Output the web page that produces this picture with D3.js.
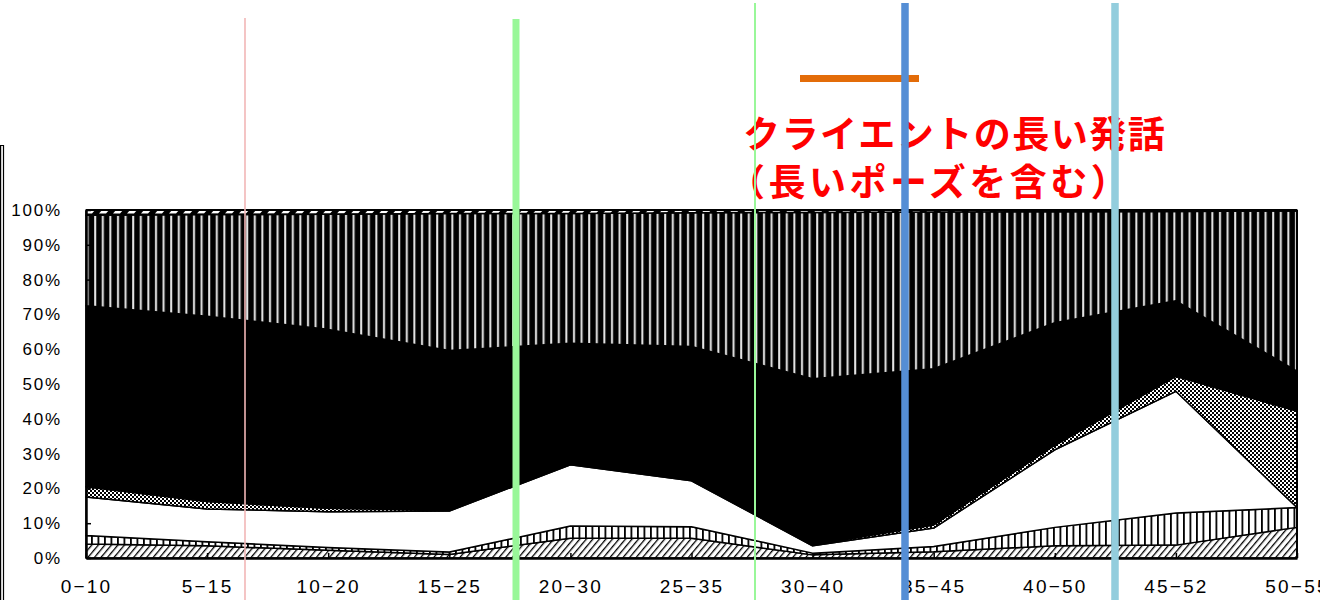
<!DOCTYPE html>
<html><head><meta charset="utf-8">
<script src="https://cdn.jsdelivr.net/npm/d3@7"></script>
<style>
html,body{margin:0;padding:0;background:#fff;}
svg{display:block;}
</style></head>
<body>
<svg id="chart" width="1320" height="600"></svg>
<script>
// ---- data ----
const categories = ["0−10","5−15","10−20","15−25","20−30","25−35","30−40","35−45","40−50","45−52","50−55"];
const seriesA = [4, 3.5, 2.2, 1, 5.7, 5.7, 0.9, 1.8, 3.5, 3.7, 8.8];          // diagonal hatch
const seriesB = [2.5, 1.2, 0.8, 0.7, 3.5, 3.3, 0.5, 1.5, 5.3, 9.2, 5.7];      // vertical lines
const seriesC = [11, 9.4, 10.3, 11.8, 17.6, 13.2, 2.1, 5.3, 22.3, 35, 0];     // white
const seriesD = [3, 2.1, 1, 0.2, 0.2, 0.2, 0.3, 0.9, 1.3, 4.3, 27.7];         // checker
const seriesE = [52, 53.3, 51.4, 45.9, 34.7, 38.4, 47.7, 44.9, 35.2, 21.7, 11.5]; // black
const seriesF = [26, 29.2, 33.1, 39.4, 37.3, 38.4, 47.8, 45, 31.9, 25.7, 46];  // black w/ white stripes
const seriesG = [1.5, 1.3, 1.2, 1.0, 1.0, 0.8, 0.7, 0.6, 0.5, 0.4, 0.3];      // top dashes
const yTicks = [0,10,20,30,40,50,60,70,80,90,100];
const annotationLines = ["クライエントの長い発話", "（長いポーズを含む）"];

const seriesKeys = ["A","B","C","D","E","F","G"];
const seriesData = {A:seriesA,B:seriesB,C:seriesC,D:seriesD,E:seriesE,F:seriesF,G:seriesG};
const table = categories.map((c,i)=>{
  const row = {cat:c};
  seriesKeys.forEach(k=>row[k]=seriesData[k][i]);
  return row;
});

const svg = d3.select("#chart");
const defs = svg.append("defs");

// patterns
const pA = defs.append("pattern").attr("id","pA").attr("patternUnits","userSpaceOnUse")
  .attr("width",5).attr("height",5).attr("patternTransform","rotate(40)");
pA.append("rect").attr("width",5).attr("height",5).attr("fill","#fff");
pA.append("rect").attr("x",0).attr("y",0).attr("width",1.3).attr("height",5).attr("fill","#000");

const pB = defs.append("pattern").attr("id","pB").attr("patternUnits","userSpaceOnUse")
  .attr("width",6.5).attr("height",10);
pB.append("rect").attr("width",6.5).attr("height",10).attr("fill","#fff");
pB.append("rect").attr("x",0).attr("y",0).attr("width",1.8).attr("height",10).attr("fill","#000");

const pD = defs.append("pattern").attr("id","pD").attr("patternUnits","userSpaceOnUse")
  .attr("width",4).attr("height",4);
pD.append("rect").attr("width",4).attr("height",4).attr("fill","#fff");
pD.append("rect").attr("x",0).attr("y",0).attr("width",2).attr("height",2).attr("fill","#000");
pD.append("rect").attr("x",2).attr("y",2).attr("width",2).attr("height",2).attr("fill","#000");

const pF = defs.append("pattern").attr("id","pF").attr("patternUnits","userSpaceOnUse")
  .attr("width",7.6).attr("height",10);
pF.append("rect").attr("width",7.6).attr("height",10).attr("fill","#000");
pF.append("rect").attr("x",3).attr("y",0).attr("width",2).attr("height",10).attr("fill","#e8e8e8");

const pG = defs.append("pattern").attr("id","pG").attr("patternUnits","userSpaceOnUse")
  .attr("width",14).attr("height",6).attr("y",208);
pG.append("rect").attr("width",14).attr("height",6).attr("fill","#000");
pG.append("polygon").attr("points","1,5.5 8,5.5 12,1 5,1").attr("fill","#fff");

const fills = {A:"url(#pA)",B:"url(#pB)",C:"#fff",D:"url(#pD)",E:"#000",F:"url(#pF)",G:"url(#pG)"};

const x = d3.scalePoint().domain(categories).range([86,1297]);
const y = d3.scaleLinear().domain([0,100]).range([558,210]);

const stack = d3.stack().keys(seriesKeys);
const stacked = stack(table);

const area = d3.area()
  .x(d=>x(d.data.cat))
  .y0(d=>y(d[0]))
  .y1(d=>y(d[1]));

svg.append("g").selectAll("path").data(stacked).join("path")
  .attr("d",area)
  .attr("fill",d=>fills[d.key])
  .attr("stroke","#000")
  .attr("stroke-width",1.5)
  .attr("stroke-linejoin","round");

// frame lines: top at 100%, right edge
svg.append("line").attr("x1",x.range()[0]).attr("x2",x.range()[1])
  .attr("y1",y(100)).attr("y2",y(100)).attr("stroke","#000").attr("stroke-width",2);
svg.append("line").attr("x1",x.range()[1]).attr("x2",x.range()[1])
  .attr("y1",y(100)).attr("y2",y(0)).attr("stroke","#000").attr("stroke-width",2);

// axes
const yAxis = d3.axisLeft(y).tickValues(yTicks).tickFormat(d=>d+"%")
  .tickSizeInner(-5).tickSizeOuter(0).tickPadding(24);
const gy = svg.append("g").attr("transform",`translate(${x.range()[0]},0)`).call(yAxis);
gy.select(".domain").attr("stroke","#000").attr("stroke-width",2.5);
gy.selectAll(".tick line").attr("stroke","#000").attr("stroke-width",1.5);
gy.selectAll("text").attr("font-family","'Liberation Sans', Arial, sans-serif")
  .attr("font-size",17).attr("letter-spacing",1.8).attr("fill","#000");

const xAxis = d3.axisBottom(x).tickSizeInner(-5).tickSizeOuter(0).tickPadding(22);
const gx = svg.append("g").attr("transform",`translate(0,${y(0)})`).call(xAxis);
gx.select(".domain").attr("stroke","#000").attr("stroke-width",2.5);
gx.selectAll(".tick line").attr("stroke","#000").attr("stroke-width",1.5);
gx.selectAll("text").attr("font-family","'Liberation Sans', Arial, sans-serif")
  .attr("font-size",19).attr("letter-spacing",2.2).attr("fill","#000");

// outer chart frame fragment on the left
svg.append("path").attr("d","M0,145.5 H3.5 V600").attr("fill","none").attr("stroke","#000").attr("stroke-width",1.2);
svg.append("line").attr("x1",0.6).attr("x2",0.6).attr("y1",145).attr("y2",600).attr("stroke","#000").attr("stroke-width",1.2);

// annotation text
const ann = svg.append("g").attr("font-family","'Noto Sans CJK JP', sans-serif")
  .attr("font-weight","bold").attr("font-size",37).attr("fill","#ff0000");
ann.append("text").attr("x",743).attr("y",148).attr("letter-spacing",1.5).text(annotationLines[0]);
ann.append("text").attr("x",728).attr("y",196).attr("letter-spacing",3.5).text(annotationLines[1]);

// orange marker line
svg.append("line").attr("x1",800).attr("x2",919).attr("y1",78.5).attr("y2",78.5)
  .attr("stroke","#e36c09").attr("stroke-width",7);

// vertical marker lines
const vlines = [
  {x:245, y0:18, w:1.6, c:"#f2b6b6"},
  {x:516, y0:19, w:7, c:"#99f799"},
  {x:755, y0:3, w:2, c:"#99f799"},
  {x:905, y0:3, w:7.5, c:"#558ed5"},
  {x:1115, y0:3, w:7.5, c:"#93cddd"}
];
svg.append("g").selectAll("line").data(vlines).join("line")
  .attr("x1",d=>d.x).attr("x2",d=>d.x).attr("y1",d=>d.y0).attr("y2",600)
  .attr("stroke",d=>d.c).attr("stroke-width",d=>d.w);
</script>
</body></html>
